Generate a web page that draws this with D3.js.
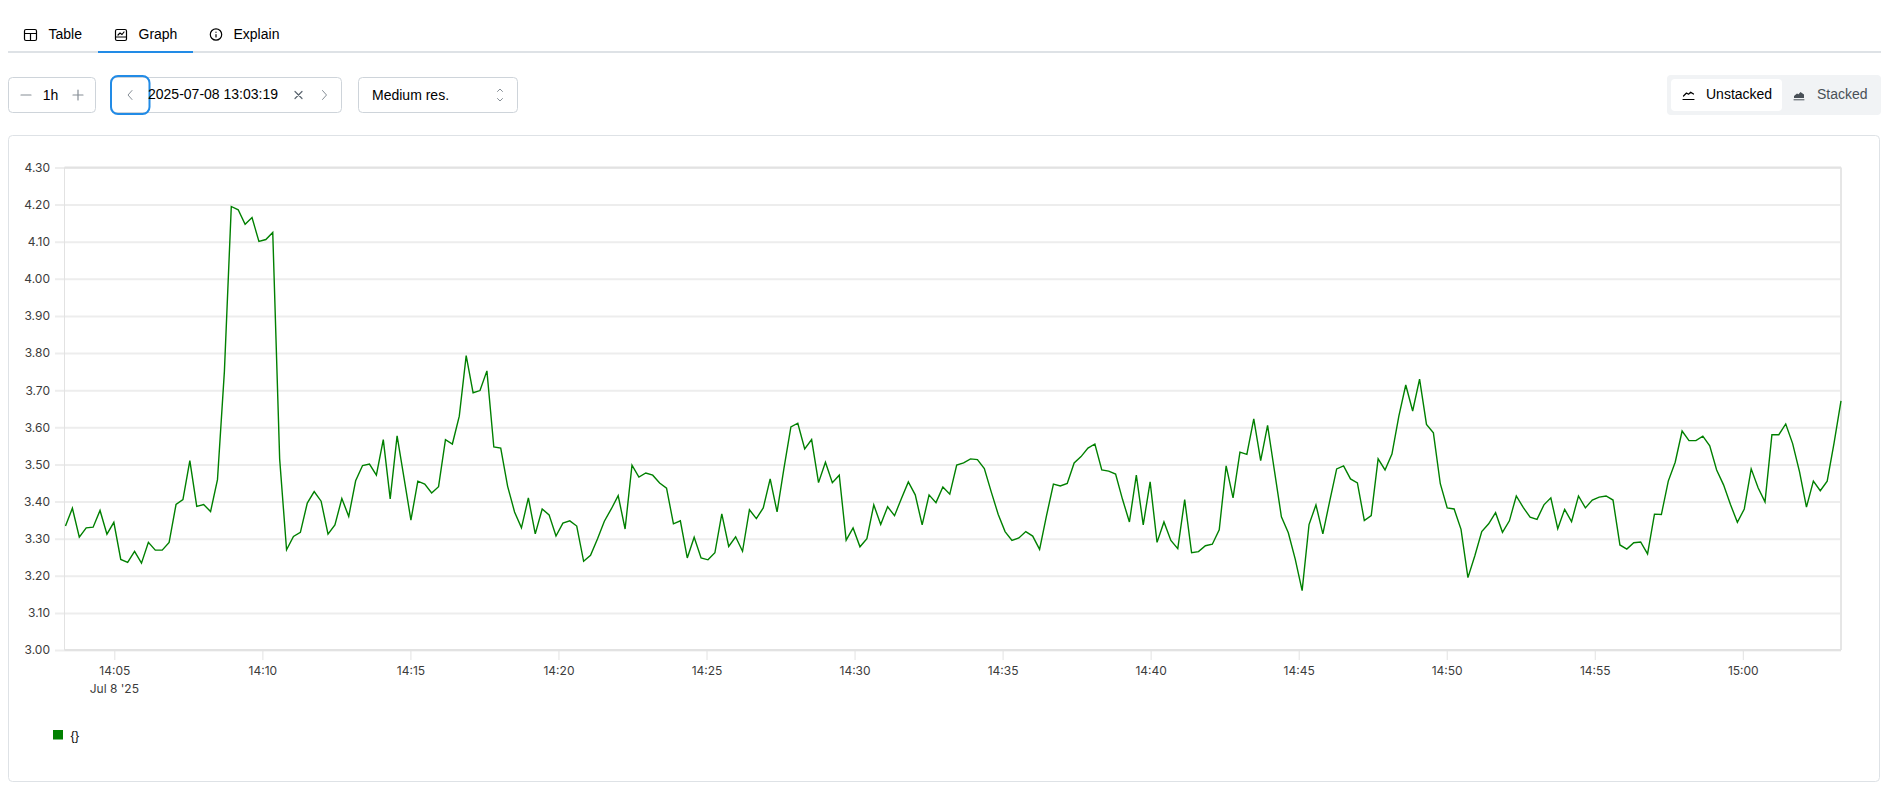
<!DOCTYPE html>
<html><head><meta charset="utf-8">
<script src="https://cdn.jsdelivr.net/npm/d3@7"></script>
<style>
html,body{margin:0;padding:0;background:#fff;overflow:hidden}
svg{display:block}
text{font-family:"Liberation Sans",Arial,sans-serif;font-size:14px;fill:#000}
.ax text{font-family:Inter,sans-serif;font-size:12px;fill:#3c3c3c}
</style></head><body><div id="c"></div>
<script>
const values=[
3.334,3.382,3.304,3.329,3.331,3.376,3.312,3.344,3.244,3.236,3.266,3.234,3.290,3.269,3.269,3.290,3.392,3.405,3.510,3.387,3.392,3.373,3.459,3.750,
4.195,4.186,4.147,4.165,4.101,4.106,4.125,3.515,3.270,3.306,3.317,3.396,3.427,3.401,3.312,3.337,3.408,3.360,3.456,
3.497,3.501,3.471,3.567,3.407,3.577,3.464,3.350,3.455,3.447,3.423,3.440,3.567,3.555,3.630,3.793,3.693,3.699,3.752,3.547,3.544,3.441,3.372,3.329,3.410,3.313,3.380,3.364,3.307,3.342,3.348,3.334,3.239,3.255,3.299,3.347,3.380,3.416,3.326,3.498,3.466,3.477,3.471,3.450,
3.436,3.340,3.348,3.248,3.304,3.248,3.243,3.262,3.367,3.279,3.305,3.266,3.378,3.354,3.383,3.461,3.372,3.490,3.601,3.611,3.542,3.567,3.451,3.506,3.451,3.471,3.296,3.329,3.278,3.300,3.391,3.338,3.386,3.362,3.408,3.453,3.418,3.337,3.418,3.397,3.439,3.420,3.498,
3.504,3.515,3.513,3.489,3.426,3.366,3.319,3.295,3.302,3.319,3.307,3.271,3.362,3.447,3.442,3.449,3.504,3.521,3.544,3.555,3.485,3.482,3.474,3.406,3.345,3.471,3.337,3.453,3.290,3.345,3.295,3.273,3.405,3.262,3.265,3.281,3.285,3.324,3.496,3.410,3.533,3.527,3.623,3.510,
3.605,3.482,3.359,3.316,3.245,3.160,3.338,3.391,3.313,3.402,3.488,3.496,3.461,3.450,3.349,3.362,3.515,3.485,3.528,3.630,3.714,3.644,3.730,3.608,3.585,3.448,3.383,3.380,3.325,3.195,3.254,3.319,3.340,3.370,3.317,3.348,3.415,3.384,3.358,3.352,3.391,3.410,3.327,
3.379,3.346,3.415,3.383,3.404,3.412,3.415,3.404,3.283,3.272,3.289,3.291,3.259,3.366,3.365,3.455,3.506,3.590,3.564,3.564,3.576,3.550,3.485,3.445,3.392,3.344,3.380,3.488,3.437,3.399,3.580,3.580,3.609,3.556,3.480,3.385,3.455,3.429,3.455,3.558,3.671];
const yTicks=[3.0,3.1,3.2,3.3,3.4,3.5,3.6,3.7,3.8,3.9,4.0,4.1,4.2,4.3];
const startTime=new Date(2025,6,8,14,3,19), endTime=new Date(2025,6,8,15,3,19);
const stepMs=14000;
const xTickMinutes=[5,10,15,20,25,30,35,40,45,50,55,60];
const dateLabel="Jul 8 '25";
const tabs=["Table","Graph","Explain"];
const seriesLabel="{}";
const lineColor="#008000";

const W=1899,H=790;
const svg=d3.select("#c").append("svg").attr("width",W).attr("height",H);
const P={l:64.5,r:1841,t:167.5,b:650};
const x=d3.scaleTime().domain([startTime,endTime]).range([P.l,P.r]);
const y=d3.scaleLinear().domain([3.0,4.3]).range([P.b,P.t]);
const n=values.length;
const times=values.map((_,i)=>new Date(+endTime-(n-1-i)*stepMs));

function rr(x0,y0,w,h,r,fill,stroke,sw){return svg.append("rect").attr("x",x0).attr("y",y0).attr("width",w).attr("height",h).attr("rx",r).attr("fill",fill).attr("stroke",stroke||"none").attr("stroke-width",sw||1);}
function tx(s,x0,y0,o={}){return svg.append("text").text(s).attr("x",x0).attr("y",y0).attr("text-anchor",o.a||"start").style("fill",o.c||"#000").style("font-size",o.s||"14px");}
function pth(d,o={}){return svg.append("path").attr("d",d).attr("fill",o.f||"none").attr("stroke",o.c||"#000").attr("stroke-width",o.w||1.2).attr("stroke-linecap","round").attr("stroke-linejoin","round");}

// tabs
svg.append("line").attr("x1",8).attr("x2",1881).attr("y1",52).attr("y2",52).attr("stroke","#dee2e6").attr("stroke-width",2);
svg.append("line").attr("x1",98).attr("x2",193).attr("y1",52).attr("y2",52).attr("stroke","#228be6").attr("stroke-width",2);
tx(tabs[0],48.5,39); tx(tabs[1],138.5,39); tx(tabs[2],233.5,39);
pth("M26 29.500h9a1.500 1.500 0 0 1 1.500 1.500v8a1.500 1.500 0 0 1-1.500 1.500h-9a1.500 1.500 0 0 1-1.500-1.500v-8a1.500 1.500 0 0 1 1.500-1.500zM24.500 33.500h12M30.500 33.500v7");
pth("M117 29.500h8a1.500 1.500 0 0 1 1.500 1.500v8a1.500 1.500 0 0 1-1.500 1.500h-8a1.500 1.500 0 0 1-1.500-1.500v-8a1.500 1.500 0 0 1 1.500-1.500zM115.500 37h11M118 35l2-2 2 1.500 2-2.500");
svg.append("circle").attr("cx",216).attr("cy",34.500).attr("r",5.700).attr("fill","none").attr("stroke","#000").attr("stroke-width",1.200);
pth("M216 34.500v2.500M216 32.200v.1");

// controls
rr(8.500,77.500,87,35,4,"#fff","#ced4da");
pth("M21 95h10",{c:"#868e96"}); pth("M73 95h10M78 90v10",{c:"#868e96"});
tx("1h",50.500,99.500,{a:"middle"});
rr(110.500,77.500,231,35,4,"#fff","#ced4da");
pth("M132 90.500l-4 4.500 4 4.500",{c:"#868e96",w:1});
rr(111,76,38.500,38,7,"none","#228be6",2);
tx("2025-07-08 13:03:19",148,99);
pth("M295 91.500l7 7M302 91.500l-7 7",{c:"#5c6670"});
pth("M322.500 90.500l4 4.500-4 4.500",{c:"#868e96",w:1});
rr(358.500,77.500,159,35,4,"#fff","#ced4da");
tx("Medium res.",372,100);
pth("M497.500 91.500l2.500-2.500 2.500 2.500M497.500 98.500l2.500 2.500 2.500-2.500",{c:"#868e96",w:1});

// segmented
rr(1667,75,214,40,4,"#f1f3f5");
rr(1671,79,111,32,4,"#fff");
tx("Unstacked",1706,99,{c:"#000"});
tx("Stacked",1817,99,{c:"#495057"});
pth("M1683 99.500h11M1683.500 96l3-3 2 1.200 2.200-2 2.800 1.800",{w:1.200});
svg.append("path").attr("d","M1794 98v-2l3-2.500 1.500 .8 2-2.300 3.500 2.500v3.500z").attr("fill","#495057");
pth("M1794 99.800h10",{c:"#495057",w:1});

// panel
rr(8.500,135.500,1871,646,4,"#fff","#dee2e6");

// grid and axes
const yAxis=d3.axisLeft(y).tickValues(yTicks).tickFormat(d3.format(".2f")).tickSize(P.r-P.l+9.500).tickPadding(5);
const gy=svg.append("g").attr("class","ax").attr("transform",`translate(${P.r},0)`).call(yAxis);
gy.select(".domain").remove();
gy.selectAll("line").attr("stroke","#ededed").attr("stroke-width",2);
svg.append("line").attr("x1",P.l).attr("x2",P.l).attr("y1",P.t).attr("y2",P.b).attr("stroke","#e2e2e2").attr("stroke-width",1);
svg.append("line").attr("x1",P.r).attr("x2",P.r).attr("y1",P.t).attr("y2",P.b).attr("stroke","#e6e6e6").attr("stroke-width",2);
svg.append("line").attr("x1",P.l).attr("x2",P.r).attr("y1",P.t).attr("y2",P.t).attr("stroke","#e2e2e2").attr("stroke-width",2);
svg.append("line").attr("x1",P.l).attr("x2",P.r).attr("y1",P.b).attr("y2",P.b).attr("stroke","#e2e2e2").attr("stroke-width",2);

const xTicks=xTickMinutes.map(m=>new Date(2025,6,8,14,m,0));
const xAxis=d3.axisBottom(x).tickValues(xTicks).tickFormat(d3.timeFormat("%H:%M")).tickSize(10).tickPadding(6);
const gx=svg.append("g").attr("class","ax").attr("transform",`translate(0,${P.b})`).call(xAxis);
gx.select(".domain").remove();
gx.selectAll("line").attr("stroke","#e2e2e2");
svg.append("text").attr("class","d").text(dateLabel).attr("x",x(xTicks[0])).attr("y",693).attr("text-anchor","middle").style("font-family","Inter,sans-serif").style("font-size","12px").style("fill","#3c3c3c");

// line
const line=d3.line().x((d,i)=>x(times[i])).y(d=>y(d));
svg.append("path").datum(values).attr("d",line).attr("fill","none").attr("stroke",lineColor).attr("stroke-width",1.400).attr("stroke-linejoin","miter");

// legend
svg.append("rect").attr("x",53).attr("y",730).attr("width",10).attr("height",9.500).attr("fill",lineColor);
svg.append("text").text(seriesLabel).attr("x",70.500).attr("y",739.500).style("font-family","'Liberation Sans',sans-serif").style("font-size","13px").style("fill","#111");
</script></body></html>
